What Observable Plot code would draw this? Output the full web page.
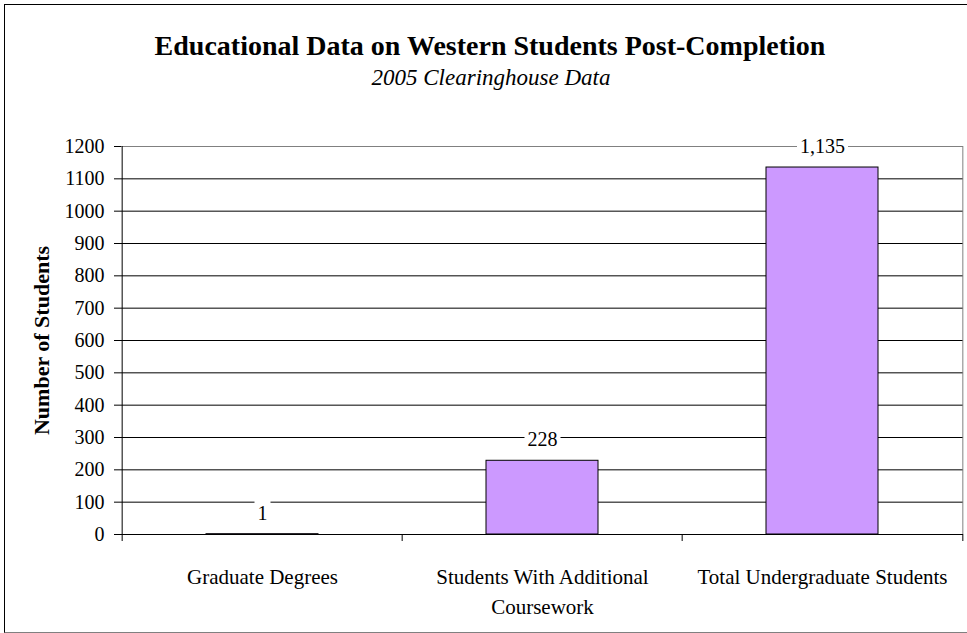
<!DOCTYPE html>
<html>
<head>
<meta charset="utf-8">
<script src="https://cdn.jsdelivr.net/npm/d3@7"></script>
<script src="https://cdn.jsdelivr.net/npm/@observablehq/plot@0.6"></script>
<style>
  html, body { margin: 0; padding: 0; background: #fff; overflow: hidden; }
  #wrap { position: relative; width: 967px; height: 633px; overflow: hidden;
          font-family: "Liberation Serif", "Times New Roman", serif; color: #000; }
  #frame { position: absolute; left: 4px; top: 4px; width: 1000px; height: 629px;
           box-sizing: border-box; border: 1px solid #000; border-bottom-color: #808080; }
  #title { position: absolute; left: 0; top: 32px; width: 980px; text-align: center;
           font-weight: bold; font-size: 28px; line-height: 28px; white-space: nowrap; }
  #subtitle { position: absolute; left: 0; top: 66px; width: 982px; text-align: center;
              font-style: italic; font-size: 23px; line-height: 23px; white-space: nowrap; }
  #chart { position: absolute; left: 0; top: 100px; }
</style>
</head>
<body>
<div id="wrap">
  <div id="frame"></div>
  <div id="title">Educational Data on Western Students Post-Completion</div>
  <div id="subtitle">2005 Clearinghouse Data</div>
  <div id="chart"></div>
</div>
<script>
// ---- data ----
const categories = ["Graduate Degrees", "Students With Additional Coursework", "Total Undergraduate Students"];
const categoryLabels = ["Graduate Degrees", "Students With Additional\nCoursework", "Total Undergraduate Students"];
const students = [1, 228, 1135];
const valueLabels = ["1", "228", "1,135"];
const yTicks = [0, 100, 200, 300, 400, 500, 600, 700, 800, 900, 1000, 1100, 1200];
const yAxisTitle = "Number of Students";

const data = categories.map((c, i) => ({
  category: c, students: students[i], label: valueLabels[i], catLabel: categoryLabels[i]
}));

// ---- layout ----
const W = 967, H = 533;
const mL = 121, mR = 4, mT = 46, mB = 99;
const step = (W - mL - mR) / categories.length;
const lastCat = categories[categories.length - 1];

const chart = Plot.plot({
  width: W, height: H,
  marginLeft: mL, marginRight: mR, marginTop: mT, marginBottom: mB,
  style: { fontFamily: '"Liberation Serif", "Times New Roman", serif', fontSize: "20px",
           color: "#000", background: "transparent", overflow: "visible" },
  x: { domain: categories, padding: 0, axis: null },
  y: { domain: [0, 1200], ticks: yTicks, tickSize: 7, tickPadding: 10,
       tickFormat: d => String(d), label: null },
  marks: [
    // gridlines (inner black, top gray)
    Plot.ruleY(yTicks.filter(v => v > 0 && v < 1200), { stroke: "#000", strokeWidth: 1 }),
    Plot.ruleY(yTicks.filter(v => v === 1200), { stroke: "#808080", strokeWidth: 1 }),
    // right border of plot area (gray)
    Plot.ruleX([lastCat], { y1: 0, y2: 1200, dx: step / 2, stroke: "#808080" }),
    // bars
    Plot.barY(data, { x: "category", y: "students", fill: "#cc99ff", stroke: "#000",
                      strokeWidth: 1, insetLeft: 84, insetRight: 84 }),
    // left axis line & baseline
    Plot.ruleX([categories[0]], { y1: 0, y2: 1200, dx: -step / 2, stroke: "#000" }),
    Plot.ruleY([0], { stroke: "#000" }),
    // category boundary ticks
    Plot.ruleX(categories, { x: d => d, y1: 0, y2: 0, insetBottom: -7, dx: -step / 2, stroke: "#000" }),
    Plot.ruleX([lastCat], { y1: 0, y2: 0, insetBottom: -7, dx: step / 2, stroke: "#000" }),
    // category labels
    Plot.text(data, { x: "category", text: "catLabel", frameAnchor: "bottom", lineAnchor: "top",
                      dy: 28, fontSize: 21, lineHeight: 1.43, fill: "#000" }),
    // value labels
    Plot.text(data, { x: "category", y: "students", text: "label", dy: -21, fontSize: 20,
                      lineAnchor: "middle", fill: "#000" }),
    // y axis title
    Plot.text([yAxisTitle], { frameAnchor: "left", textAnchor: "middle", lineAnchor: "middle",
                              rotate: -90, dx: -80, fontSize: 22, fontWeight: "bold", fill: "#000" })
  ]
});

document.getElementById("chart").appendChild(chart);

// white backgrounds behind the value labels (as in the reference, they interrupt gridlines)
chart.querySelectorAll("text").forEach(t => {
  if (!valueLabels.includes(t.textContent)) return;
  const b = t.getBBox();
  const r = document.createElementNS("http://www.w3.org/2000/svg", "rect");
  r.setAttribute("x", b.x - 3);
  r.setAttribute("y", b.y - 1);
  r.setAttribute("width", b.width + 6);
  r.setAttribute("height", b.height + 1);
  r.setAttribute("fill", "#fff");
  r.setAttribute("stroke", "none");
  const tr = t.getAttribute("transform");
  if (tr) r.setAttribute("transform", tr);
  t.parentNode.insertBefore(r, t);
});
</script>
</body>
</html>
